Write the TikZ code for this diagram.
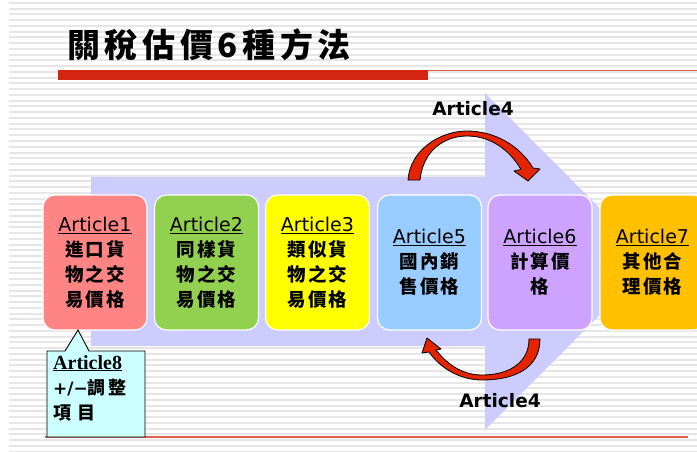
\documentclass[tikz,border=0pt]{standalone}
\usepackage{fontspec}
\setmainfont{Liberation Serif}
\newfontfamily\dv{DejaVu Sans}
\newfontfamily\cjk{Noto Sans CJK TC}[LetterSpace=12]
\newfontfamily\cjkw{Noto Sans CJK TC}[LetterSpace=35]
\newfontfamily\cjkt{Noto Sans CJK TC}[LetterSpace=14]
\definecolor{stripe}{HTML}{E6E6E6}
\definecolor{barred}{HTML}{D42510}
\definecolor{linered}{HTML}{E06050}
\definecolor{arrowbg}{HTML}{CCCCFF}
\definecolor{c1}{HTML}{FF8585}
\definecolor{c2}{HTML}{92D050}
\definecolor{c3}{HTML}{FFFF00}
\definecolor{c5}{HTML}{99CCFF}
\definecolor{c6}{HTML}{CDA3FF}
\definecolor{c7}{HTML}{FFC000}
\definecolor{callout}{HTML}{CCFFFF}
\definecolor{arc}{HTML}{E42400}
\newcommand{\art}[1]{{\dv\fontsize{19}{25}\selectfont\underline{#1}}}
\begin{document}
\begin{tikzpicture}[x=1pt,y=-1pt,
  stepbox/.style={rounded corners=12, draw=white, line width=1.2, minimum width=104,
    minimum height=135, align=center, inner sep=0, font=\fontsize{18.5}{25}\selectfont},
  arcarrow/.style={fill=arc, draw=black, line width=0.8, line join=round},
  artlabel/.style={font=\dv\bfseries\fontsize{18.5}{22}\selectfont, inner sep=0},
  callline/.style={anchor=base west, inner sep=0}]
\useasboundingbox (0,0) rectangle (697,452);
\fill[white] (0,0) rectangle (697,452);
% background stripes
\foreach \i in {0,...,78} {
  \fill[stripe] (9,{2+\i*5.75}) rectangle (697,{4+\i*5.75});
}
% title
\node[anchor=west, inner sep=0, font=\cjkt\bfseries\fontsize{33}{36}\selectfont] (title) at (67,45) {關稅估價6種方法};
\fill[barred] (58,70) rectangle (428,80);
\draw[linered, line width=1.3] (428,70.6) -- (697,70.6);
\draw[linered, line width=1.3] (45,437) -- (688,437);
% big arrow
\fill[arrowbg] (91,177) -- (485,177) -- (485,93) -- (653,261.5) -- (485,430) -- (485,346) -- (91,346) -- cycle;
% boxes
\node[stepbox, fill=c1] (b1) at (95,262.5) {\art{Article1}\\{\cjk\bfseries 進口貨}\\{\cjk\bfseries 物之交}\\{\cjk\bfseries 易價格}};
\node[stepbox, fill=c2] (b2) at (206.5,262.5) {\art{Article2}\\{\cjk\bfseries 同樣貨}\\{\cjk\bfseries 物之交}\\{\cjk\bfseries 易價格}};
\node[stepbox, fill=c3] (b3) at (317.5,262.5) {\art{Article3}\\{\cjk\bfseries 類似貨}\\{\cjk\bfseries 物之交}\\{\cjk\bfseries 易價格}};
\node[stepbox, fill=c5] (b5) at (429.5,262.5) {\art{Article5}\\{\cjk\bfseries 國內銷}\\{\cjk\bfseries 售價格}};
\node[stepbox, fill=c6] (b6) at (540,262.5) {\art{Article6}\\{\cjk\bfseries 計算價}\\{\cjk\bfseries 格}};
\node[stepbox, fill=c7, minimum width=105] (b7) at (652.5,262.5) {\art{Article7}\\{\cjk\bfseries 其他合}\\{\cjk\bfseries 理價格}};
% curved arrows
\path[arcarrow] (408,180) .. controls (410,150) and (440,131) .. (467,131)
  .. controls (495,131) and (520,146) .. (533,168)
  -- (540,169) -- (528,181) -- (514,171) -- (521,169.5)
  .. controls (509,149) and (490,136) .. (467,136)
  .. controls (445,136) and (423,150) .. (420,180) -- cycle;
\path[arcarrow] (540,339) .. controls (540,368) and (515,380) .. (482,380)
  .. controls (460,380) and (440,368) .. (429,352)
  -- (422,353) -- (427,338) -- (441,349) -- (436,350)
  .. controls (447,364) and (462,375) .. (482,375)
  .. controls (510,375) and (529,362) .. (529,339) -- cycle;
\node[artlabel] (a4t) at (473,109) {Article4};
\node[artlabel] (a4b) at (500,401) {Article4};
% callout
\path[fill=callout, draw=black, line width=0.9, line join=miter]
  (47,351) -- (65,351) -- (78,330) -- (89,351) -- (145,351) -- (145,437) -- (47,437) -- cycle;
\node[callline, font=\bfseries\fontsize{20}{24}\selectfont] (c8a) at (53,369) {\underline{Article8}};
\node[callline, font=\fontsize{18}{24}\selectfont] (c8b) at (53,394) {{\dv\bfseries\fontsize{17}{24}\selectfont +/−}{\cjk\bfseries 調整}};
\node[callline, font=\fontsize{18}{24}\selectfont] (c8c) at (53,419) {{\cjkw\bfseries 項目}};
\end{tikzpicture}
\end{document}
